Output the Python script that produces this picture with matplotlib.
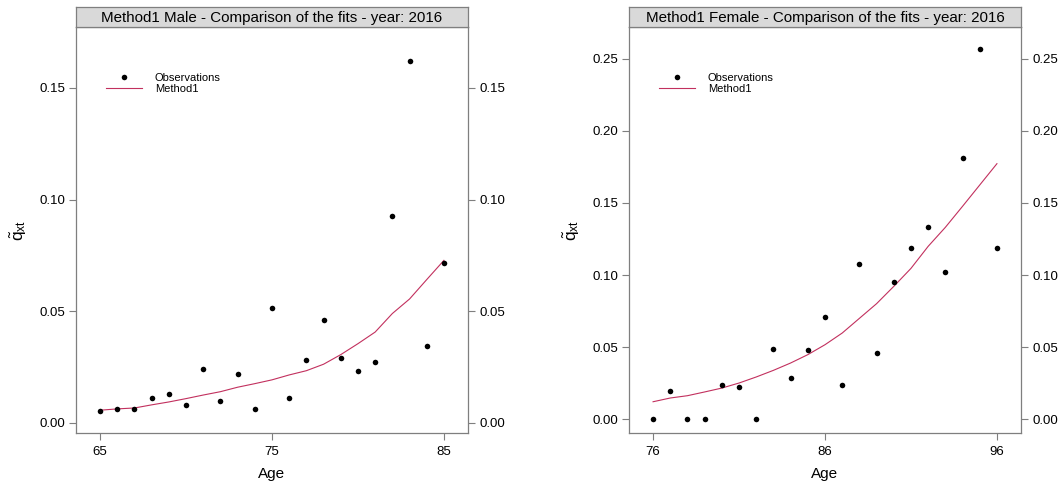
import matplotlib
matplotlib.use("Agg")
import matplotlib.pyplot as plt
from matplotlib.lines import Line2D

plt.rcParams['font.family'] = ['Liberation Sans', 'DejaVu Sans']
plt.rcParams['mathtext.fontset'] = 'custom'
plt.rcParams['mathtext.rm'] = 'Liberation Sans'
plt.rcParams['mathtext.it'] = 'Liberation Sans:italic'

# Male fit, ages 65-85
male_ages = list(range(65, 86))
male_obs = [0.0052, 0.0063, 0.0061, 0.0110, 0.0128, 0.0081, 0.0242, 0.0100, 0.0218, 0.0063,
            0.0513, 0.0110, 0.0281, 0.0461, 0.0291, 0.0231, 0.0272, 0.0928, 0.1621, 0.0345, 0.0716]
male_fit = [0.0057, 0.0063, 0.0067, 0.0081, 0.0094, 0.0109, 0.0125, 0.0140, 0.0160, 0.0176,
            0.0193, 0.0215, 0.0234, 0.0263, 0.0306, 0.0355, 0.0407, 0.0490, 0.0555, 0.0642, 0.0728]
male_xticks = [65, 75, 85]
male_yticks = [0.00, 0.05, 0.10, 0.15]

# Female fit, ages 76-96
female_ages = list(range(76, 97))
female_obs = [0.0, 0.0197, 0.0, 0.0, 0.0234, 0.0225, 0.0, 0.0488, 0.0285, 0.0479,
              0.0706, 0.0238, 0.1079, 0.0458, 0.0954, 0.1188, 0.1331, 0.1019, 0.1813, 0.2569, 0.1190]
female_fit = [0.0120, 0.0146, 0.0162, 0.0188, 0.0215, 0.0250, 0.0292, 0.0338, 0.0389, 0.0447,
              0.0516, 0.0597, 0.0699, 0.0801, 0.0921, 0.1046, 0.1199, 0.1331, 0.1477, 0.1625, 0.1773]
female_xticks = [76, 86, 96]
female_yticks = [0.00, 0.05, 0.10, 0.15, 0.20, 0.25]

FRAME = '#7f7f7f'
LINE_COL = '#c2305e'
W, H = 1063, 490


def px_axes(fig, x0, x1, y0, y1):
    # axes from pixel box (top-left origin)
    return fig.add_axes([x0 / W, 1 - y1 / H, (x1 - x0) / W, (y1 - y0) / H])


def panel(fig, x0, x1, title, ages, obs, fit, xticks, yticks, xlim, ylim):
    ax = px_axes(fig, x0, x1, 27, 433)
    ax.plot(ages, fit, color=LINE_COL, lw=0.8)
    ax.plot(ages, obs, 'o', color='black', ms=4, mec='none')
    ax.set_xlim(*xlim)
    ax.set_ylim(*ylim)
    ax.set_xticks(xticks)
    ax.set_yticks(yticks)
    ax.set_yticklabels([f"{v:.2f}" for v in yticks])
    ax.tick_params(axis='y', left=True, right=True, labelleft=True, labelright=True,
                   direction='out', length=5, width=0.8, color=FRAME, labelsize=9.5, pad=3)
    ax.tick_params(axis='x', bottom=True, top=False, direction='out', length=5,
                   width=0.8, color=FRAME, labelsize=9.5, pad=4)
    for s in ax.spines.values():
        s.set_color(FRAME)
        s.set_linewidth(0.9)
    ax.set_xlabel('Age', fontsize=11, labelpad=7)
    ax.set_ylabel(r'$\tilde{\mathrm{q}}_{\mathrm{xt}}$', fontsize=12.5, labelpad=7)

    handles = [Line2D([], [], ls='none', marker='o', color='black', ms=4, mec='none'),
               Line2D([], [], color=LINE_COL, lw=0.8)]
    ax.legend(handles, ['Observations', 'Method1'], loc='upper left',
              bbox_to_anchor=(30 / (x1 - x0), 1 - 46 / 406), frameon=False, fontsize=8,
              handlelength=3.2, handletextpad=1.2, labelspacing=0.1, borderpad=0,
              borderaxespad=0, numpoints=1)

    # title strip
    sx = px_axes(fig, x0, x1, 7, 27)
    sx.set_facecolor('#d9d9d9')
    sx.set_xticks([])
    sx.set_yticks([])
    for s in sx.spines.values():
        s.set_color(FRAME)
        s.set_linewidth(0.9)
    sx.text(0.5, 0.45, title, ha='center', va='center', fontsize=10.9, transform=sx.transAxes)
    return ax


fig = plt.figure(figsize=(W / 100, H / 100), dpi=100)

panel(fig, 76, 468, 'Method1 Male - Comparison of the fits - year: 2016',
      male_ages, male_obs, male_fit, male_xticks, male_yticks,
      (63.6, 86.4), (-0.0045, 0.1773))
panel(fig, 629, 1021, 'Method1 Female - Comparison of the fits - year: 2016',
      female_ages, female_obs, female_fit, female_xticks, female_yticks,
      (74.6, 97.4), (-0.0097, 0.2722))

fig.savefig('out.png', dpi=100)
